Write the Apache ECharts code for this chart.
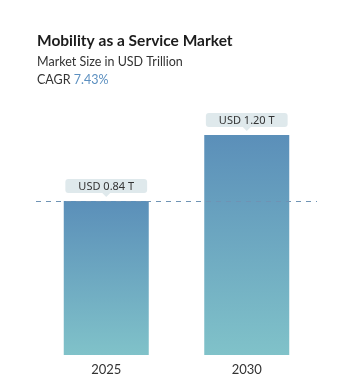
<!DOCTYPE html>
<html>
<head>
<meta charset="utf-8">
<script src="https://cdn.jsdelivr.net/npm/echarts@6/dist/echarts.min.js"></script>
<style>
  html, body { margin: 0; padding: 0; background: #fff; }
  #chart { width: 353px; height: 390px; }
</style>
</head>
<body>
<div id="chart"></div>
<script>
// market size, USD trillion
const years = ["2025", "2030"];
const marketSize = [0.84, 1.2];
const valueLabels = ["USD 0.84 T", "USD 1.20 T"];
const cagr = "7.43%";

const chart = echarts.init(document.getElementById("chart"));

const barGradient = new echarts.graphic.LinearGradient(0, 0, 0, 1, [
  { offset: 0, color: "#5b8fb9" },
  { offset: 1, color: "#80c2c9" },
]);

const option = {
  animation: false,
  textStyle: { fontFamily: "Lato, 'Noto Sans', sans-serif" },
  title: {
    text: "Mobility as a Service Market",
    subtext: "{a|Market Size in USD Trillion}\n{a|CAGR }{b|" + cagr + "}",
    left: 32,
    top: 28,
    itemGap: 4,
    textStyle: {
      fontFamily: "Lato, sans-serif",
      fontSize: 15.5,
      fontWeight: "bold",
      color: "#1c1c1c",
    },
    subtextStyle: {
      lineHeight: 18,
      rich: {
        a: { fontFamily: "Lato, sans-serif", fontSize: 12.5, color: "#333" },
        b: { fontFamily: "Lato, sans-serif", fontSize: 12.5, color: "#5b8fc0" },
      },
    },
  },
  grid: { left: 36, right: 36, top: 135, bottom: 35 },
  xAxis: {
    type: "category",
    data: years,
    axisLine: { show: false },
    axisTick: { show: false },
    axisLabel: { color: "#333", fontSize: 13, margin: 8 },
  },
  yAxis: {
    type: "value",
    min: 0,
    max: 1.2,
    show: false,
    splitLine: { show: false },
  },
  series: [
    {
      type: "bar",
      data: marketSize,
      barWidth: 85,
      itemStyle: { color: barGradient },
      label: {
        show: true,
        position: "top",
        distance: 8,
        formatter: (p) => valueLabels[p.dataIndex],
        color: "#333",
        fontSize: 11,
        fontFamily: "'Noto Sans', sans-serif",
        backgroundColor: "#dfe9ec",
        borderRadius: 3,
        padding: [2, 13, 1, 13],
      },
      markLine: {
        silent: true,
        symbol: "none",
        label: { show: false },
        lineStyle: { color: "#6f93b4", type: [5, 5], width: 1 },
        data: [{ yAxis: marketSize[0] }],
      },
      markPoint: {
        silent: true,
        symbol: "triangle",
        symbolRotate: 180,
        symbolSize: [8, 4],
        symbolOffset: [0, -6],
        itemStyle: { color: "#dfe9ec" },
        label: { show: false },
        data: years.map((y, i) => ({ coord: [y, marketSize[i]] })),
      },
    },
  ],
};

chart.setOption(option);
</script>
</body>
</html>
